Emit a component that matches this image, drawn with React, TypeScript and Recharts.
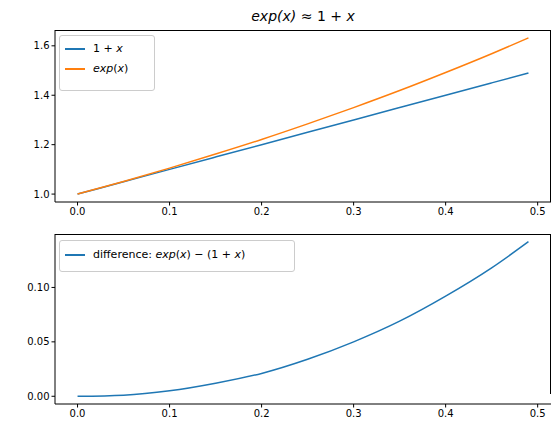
import { LineChart, Line, XAxis, YAxis } from "recharts";

const xs = [0, 0.05, 0.1, 0.15, 0.2, 0.25, 0.3, 0.35, 0.4, 0.45, 0.49];
const linear = [1, 1.05, 1.1, 1.15, 1.2, 1.25, 1.3, 1.35, 1.4, 1.45, 1.49];
const expo = [1, 1.051, 1.105, 1.162, 1.221, 1.284, 1.35, 1.419, 1.492, 1.568, 1.632];
const diff = [0, 0.001, 0.005, 0.012, 0.021, 0.034, 0.05, 0.069, 0.092, 0.118, 0.142];
const xTicks = [0, 0.1, 0.2, 0.3, 0.4, 0.5];
const topTicks = [1.0, 1.2, 1.4, 1.6];
const bottomTicks = [0, 0.05, 0.1];

const top = xs.map((x, i) => ({ x, a: linear[i], b: expo[i] }));
const bottom = xs.map((x, i) => ({ x, d: diff[i] }));

const font = { fontFamily: "DejaVu Sans", fontSize: 10, fill: "#000" };
const blue = "#1f77b4";
const orange = "#ff7f0e";

function axes(yTicks: number[], domain: [number, number], fmt: (v: number) => string) {
  return [
    <XAxis key="x" dataKey="x" type="number" domain={[-0.0245, 0.5145]} ticks={xTicks}
      tickFormatter={(v) => v.toFixed(1)} tick={font} stroke="#000" tickSize={3.5} height={23} allowDataOverflow />,
    <YAxis key="y" type="number" domain={domain} ticks={yTicks} tickFormatter={fmt}
      tick={font} stroke="#000" tickSize={3.5} width={55} allowDataOverflow />,
  ];
}

export default function App() {
  return (
    <div style={{ position: "absolute", left: 0, top: 0, width: 556, height: 437, background: "#fff", fontFamily: "DejaVu Sans" }}>
      <div style={{ position: "absolute", top: 8, left: 55, width: 496, textAlign: "center", fontSize: 14, fontStyle: "italic" }}>
        exp(x) <span style={{ fontStyle: "normal" }}>≈ 1 +</span> x
      </div>
      <div style={{ position: "absolute", top: 0, left: 0 }}>
        <LineChart width={556} height={225} data={top} margin={{ top: 30, right: 5, left: 0, bottom: 0 }}>
          {axes(topTicks, [0.968, 1.664], (v) => v.toFixed(1))}
          <Line type="monotone" dataKey="a" stroke={blue} strokeWidth={1.5} dot={false} isAnimationActive={false} />
          <Line type="monotone" dataKey="b" stroke={orange} strokeWidth={1.5} dot={false} isAnimationActive={false} />
        </LineChart>
      </div>
      <div style={{ position: "absolute", top: 200, left: 0 }}>
        <LineChart width={556} height={237} data={bottom} margin={{ top: 34, right: 5, left: 0, bottom: 10 }}>
          {axes(bottomTicks, [-0.0071, 0.1491], (v) => v.toFixed(2))}
          <Line type="monotone" dataKey="d" stroke={blue} strokeWidth={1.5} dot={false} isAnimationActive={false} />
        </LineChart>
      </div>
      <div style={{ position: "absolute", left: 55, top: 30, width: 495, height: 171, border: "1px solid #000", borderLeft: "none", borderBottom: "none", pointerEvents: "none" }} />
      <div style={{ position: "absolute", left: 55, top: 234, width: 495, height: 159, border: "1px solid #000", borderLeft: "none", borderBottom: "none", pointerEvents: "none" }} />
      <div style={{ position: "absolute", left: 59, top: 35, width: 94, height: 54, border: "1px solid #ccc", borderRadius: 3, fontSize: 11 }}>
        <div style={{ display: "flex", alignItems: "center", marginTop: 6 }}>
          <span style={{ width: 20, height: 2, background: blue, margin: "0 8px 0 5px" }} />
          <span>1 + <i>x</i></span>
        </div>
        <div style={{ display: "flex", alignItems: "center", marginTop: 7 }}>
          <span style={{ width: 20, height: 2, background: orange, margin: "0 8px 0 5px" }} />
          <i>exp</i>(<i>x</i>)
        </div>
      </div>
      <div style={{ position: "absolute", left: 59, top: 240, width: 234, height: 30, border: "1px solid #ccc", borderRadius: 3, fontSize: 11 }}>
        <div style={{ display: "flex", alignItems: "center", marginTop: 7 }}>
          <span style={{ width: 20, height: 2, background: blue, margin: "0 8px 0 5px" }} />
          <span>difference: <i>exp</i>(<i>x</i>) − (1 + <i>x</i>)</span>
        </div>
      </div>
    </div>
  );
}
